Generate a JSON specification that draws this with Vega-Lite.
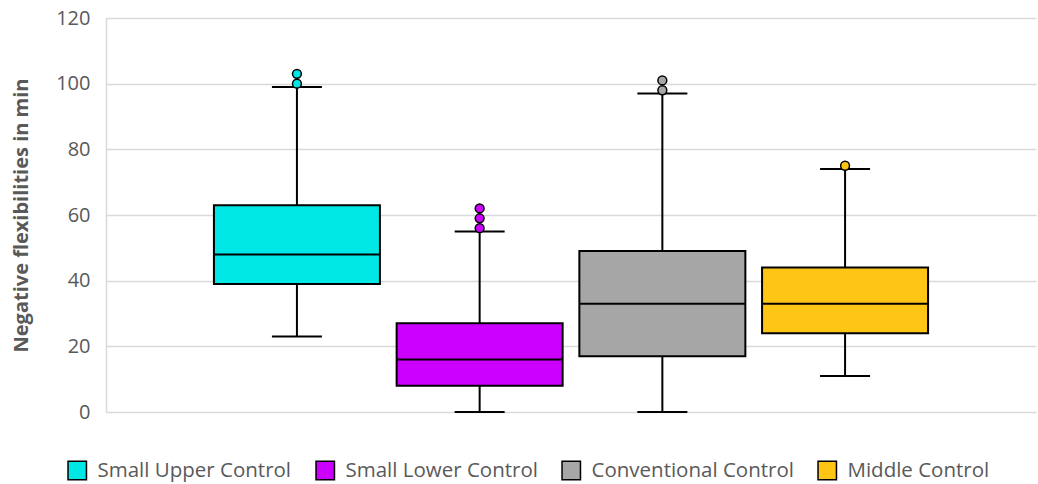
{
  "$schema": "https://vega.github.io/schema/vega-lite/v6.json",
  "width": 930,
  "height": 394,
  "autosize": {"type": "none"},
  "padding": {"left": 106, "top": 18, "right": 2, "bottom": 72},
  "background": "white",
  "config": {
    "font": "Open Sans",
    "view": {"stroke": null},
    "legend": {
      "orient": "none",
      "legendX": -39,
      "legendY": 442,
      "direction": "horizontal",
      "symbolType": "square",
      "symbolSize": 340,
      "symbolStrokeColor": "black",
      "symbolStrokeWidth": 1.5,
      "symbolOpacity": 1,
      "labelFontSize": 20.5,
      "labelColor": "#595959",
      "labelOffset": 10,
      "columnPadding": 21,
      "labelLimit": 400
    }
  },
  "datasets": {
    "stats": [
      {"group": "Small Upper Control", "lower": 23, "q1": 39, "median": 48, "q3": 63, "upper": 99},
      {"group": "Small Lower Control", "lower": 0, "q1": 8, "median": 16, "q3": 27, "upper": 55},
      {"group": "Conventional Control", "lower": 0, "q1": 17, "median": 33, "q3": 49, "upper": 97},
      {"group": "Middle Control", "lower": 11, "q1": 24, "median": 33, "q3": 44, "upper": 74}
    ],
    "outliers": [
      {"group": "Small Upper Control", "value": 100},
      {"group": "Small Upper Control", "value": 103},
      {"group": "Small Lower Control", "value": 56},
      {"group": "Small Lower Control", "value": 59},
      {"group": "Small Lower Control", "value": 62},
      {"group": "Conventional Control", "value": 98},
      {"group": "Conventional Control", "value": 101},
      {"group": "Middle Control", "value": 75}
    ]
  },
  "encoding": {
    "x": {
      "field": "group",
      "type": "nominal",
      "sort": ["Small Upper Control", "Small Lower Control", "Conventional Control", "Middle Control"],
      "scale": {"type": "band", "paddingInner": 0.1, "paddingOuter": 0.595},
      "axis": null
    }
  },
  "layer": [
    {
      "data": {"name": "stats"},
      "mark": {"type": "rule", "color": "black", "strokeWidth": 2},
      "encoding": {
        "y": {
          "field": "lower",
          "type": "quantitative",
          "scale": {"domain": [0, 120], "nice": false},
          "axis": {
            "values": [0, 20, 40, 60, 80, 100, 120],
            "title": "Negative flexibilities in min",
            "titleFontSize": 20,
            "titleFontWeight": "bold",
            "titleColor": "#595959",
            "titlePadding": 24,
            "labelFontSize": 20,
            "labelColor": "#595959",
            "labelPadding": 16,
            "ticks": false,
            "domain": true,
            "domainColor": "#d9d9d9",
            "domainWidth": 1.5,
            "grid": true,
            "gridColor": "#d9d9d9",
            "gridWidth": 1.5
          }
        },
        "y2": {"field": "upper"}
      }
    },
    {
      "data": {"name": "stats"},
      "mark": {"type": "bar", "size": 166, "stroke": "black", "strokeWidth": 2},
      "encoding": {
        "y": {"field": "q1", "type": "quantitative"},
        "y2": {"field": "q3"},
        "color": {
          "field": "group",
          "type": "nominal",
          "scale": {
            "domain": ["Small Upper Control", "Small Lower Control", "Conventional Control", "Middle Control"],
            "range": ["#00E8E6", "#CC00FF", "#A6A6A6", "#FFC514"]
          },
          "legend": {"title": null}
        }
      }
    },
    {
      "data": {"name": "stats"},
      "mark": {"type": "tick", "size": 166, "thickness": 2, "color": "black", "opacity": 1},
      "encoding": {"y": {"field": "median", "type": "quantitative"}}
    },
    {
      "data": {"name": "stats"},
      "mark": {"type": "tick", "size": 50, "thickness": 2, "color": "black", "opacity": 1},
      "encoding": {"y": {"field": "lower", "type": "quantitative"}}
    },
    {
      "data": {"name": "stats"},
      "mark": {"type": "tick", "size": 50, "thickness": 2, "color": "black", "opacity": 1},
      "encoding": {"y": {"field": "upper", "type": "quantitative"}}
    },
    {
      "data": {"name": "outliers"},
      "mark": {"type": "circle", "size": 78, "stroke": "black", "strokeWidth": 1.5, "opacity": 1},
      "encoding": {
        "y": {"field": "value", "type": "quantitative"},
        "color": {"field": "group", "type": "nominal", "legend": null}
      }
    }
  ]
}
